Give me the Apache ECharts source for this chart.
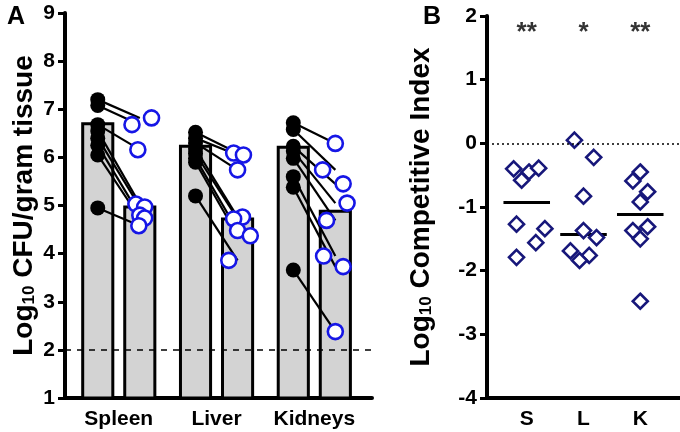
<!DOCTYPE html>
<html>
<head>
<meta charset="utf-8">
<script src="https://cdn.jsdelivr.net/npm/echarts@6.0.0/dist/echarts.min.js"></script>
<style>
html, body { margin: 0; padding: 0; background: #fff; }
#chart { width: 680px; height: 432px; }
</style>
</head>
<body>
<div id="chart"></div>
<script>
// panel A: paired CFU per organ (black = first strain, blue = second strain)
var organs = ['Spleen', 'Liver', 'Kidneys'];
var barBlack = [6.70, 6.23, 6.21];
var barBlue = [4.97, 4.72, 4.88];
var blackVals = [
	[7.20, 7.08, 6.68, 6.55, 6.40, 6.25, 6.05, 4.95],
	[6.52, 6.40, 6.30, 6.18, 6.08, 5.98, 5.90, 5.20],
	[6.72, 6.58, 6.23, 6.13, 5.98, 5.60, 5.38, 3.66]
];
var blueVals = [
	[6.82, 6.68, 6.16, 5.03, 4.97, 4.80, 4.74, 4.58],
	[6.09, 6.05, 5.74, 4.76, 4.72, 4.48, 4.37, 3.86],
	[6.29, 5.74, 5.45, 5.05, 4.69, 3.95, 3.73, 2.38]
];
var blueJitter = [
	[0.12, -0.08, -0.02, -0.04, 0.05, 0, 0.05, -0.01],
	[-0.04, 0.06, 0, 0.05, -0.04, 0, 0.13, -0.09],
	[0, -0.13, 0.08, 0.12, -0.09, -0.12, 0.08, 0]
];
var detectionLimit = 2;

// panel B: competitive index
var sites = ['S', 'L', 'K'];
var ciVals = [
	[-0.40, -0.45, -0.39, -0.58, -1.27, -1.34, -1.56, -1.79],
	[0.05, -0.22, -0.83, -1.37, -1.48, -1.69, -1.76, -1.84],
	[-0.45, -0.59, -0.76, -0.92, -1.37, -1.31, -1.50, -2.48]
];
var ciJitter = [
	[-0.23, 0.04, 0.21, -0.09, -0.18, 0.32, 0.16, -0.18],
	[-0.16, 0.18, 0, 0, 0.23, -0.23, 0.10, -0.07],
	[0, -0.13, 0.13, 0, -0.13, 0.13, 0, 0]
];
var ciMedians = [-0.92, -1.43, -1.11];
var stars = ['**', '*', '**'];

var font = 'Liberation Sans, Arial, sans-serif';
var pairOff = 0.215;
var barHalf = 0.154;
var sitePos = [0.7, 1.7, 2.7];
var medHalf = 0.41;

var barData = [], blackPts = [], bluePts = [], pairLines = [];
for (var g = 0; g < organs.length; g++) {
	barData.push([g - pairOff, barBlack[g]]);
	barData.push([g + pairOff, barBlue[g]]);
	for (var i = 0; i < blackVals[g].length; i++) {
		blackPts.push([g - pairOff, blackVals[g][i]]);
		bluePts.push([g + pairOff + blueJitter[g][i], blueVals[g][i]]);
		pairLines.push({coords: [[g - pairOff, blackVals[g][i]], [g + pairOff, blueVals[g][i]]]});
	}
}

var ciPts = [], medLines = [], starPts = [];
for (var s = 0; s < sites.length; s++) {
	for (var j = 0; j < ciVals[s].length; j++) {
		ciPts.push([sitePos[s] + ciJitter[s][j], ciVals[s][j]]);
	}
	medLines.push({coords: [[sitePos[s] - medHalf, ciMedians[s]], [sitePos[s] + medHalf, ciMedians[s]]]});
	starPts.push([sitePos[s], 1.74]);
}

var axisText = {color: '#000', fontWeight: 'bold', fontFamily: font};
var nameStyle = {
	color: '#000', fontSize: 28, fontWeight: 'bold', fontFamily: font,
	rich: {sub: {fontSize: 17, fontWeight: 'bold', fontFamily: font, color: '#000', verticalAlign: 'bottom', padding: [9, 0, 0, 0]}}
};

var myChart = echarts.init(document.getElementById('chart'));
var option = {
	animation: false,
	title: [
		{text: 'A', left: 2, top: 0, textStyle: {color: '#000', fontSize: 25, fontWeight: 'bold', fontFamily: font}},
		{text: 'B', left: 418, top: 0, textStyle: {color: '#000', fontSize: 25, fontWeight: 'bold', fontFamily: font}}
	],
	grid: [
		{left: 65, right: 308, top: 13, bottom: 34},
		{left: 487, right: 0, top: 16, bottom: 34}
	],
	xAxis: [
		{
			gridIndex: 0,
			type: 'value',
			min: -0.55,
			max: 2.59,
			splitLine: {show: false},
			axisTick: {show: false},
			axisLine: {show: true, onZero: false, lineStyle: {color: '#000', width: 4}},
			axisLabel: Object.assign({
				customValues: [0, 1, 2],
				fontSize: 21,
				margin: 11,
				formatter: function (v) { return organs[Math.round(v)]; }
			}, axisText)
		},
		{
			gridIndex: 1,
			type: 'value',
			min: 0,
			max: 3.4,
			splitLine: {show: false},
			axisTick: {show: false},
			axisLine: {show: true, onZero: false, lineStyle: {color: '#000', width: 4}},
			axisLabel: Object.assign({
				customValues: sitePos,
				fontSize: 21,
				margin: 11,
				formatter: function (v) { return sites[Math.round(v - 0.7)]; }
			}, axisText)
		}
	],
	yAxis: [
		{
			gridIndex: 0,
			type: 'value',
			min: 1,
			max: 9,
			interval: 1,
			splitLine: {show: false},
			axisLine: {show: true, onZero: false, lineStyle: {color: '#000', width: 4}},
			axisTick: {show: true, length: 7, lineStyle: {color: '#000', width: 3}},
			axisLabel: Object.assign({fontSize: 21, margin: 10}, axisText),
			name: 'Log{sub|10} CFU/gram tissue',
			nameLocation: 'middle',
			nameRotate: 90,
			nameGap: 27,
			nameTextStyle: nameStyle
		},
		{
			gridIndex: 1,
			type: 'value',
			min: -4,
			max: 2,
			interval: 1,
			splitLine: {show: false},
			axisLine: {show: true, onZero: false, lineStyle: {color: '#000', width: 4}},
			axisTick: {show: true, length: 7, lineStyle: {color: '#000', width: 3}},
			axisLabel: Object.assign({fontSize: 21, margin: 10}, axisText),
			name: 'Log{sub|10} Competitive Index',
			nameLocation: 'middle',
			nameRotate: 90,
			nameGap: 52,
			nameTextStyle: nameStyle
		}
	],
	series: [
		{
			// detection limit
			type: 'line',
			xAxisIndex: 0,
			yAxisIndex: 0,
			data: [],
			z: 1,
			markLine: {
				silent: true,
				symbol: ['none', 'none'],
				label: {show: false},
				lineStyle: {color: '#000', width: 1.5, type: [6, 6]},
				data: [{yAxis: detectionLimit}]
			}
		},
		{
			type: 'custom',
			xAxisIndex: 0,
			yAxisIndex: 0,
			z: 2,
			data: barData,
			renderItem: function (params, api) {
				var x = api.value(0), y = api.value(1);
				var p1 = api.coord([x - barHalf, y]);
				var p2 = api.coord([x + barHalf, 1]);
				return {
					type: 'rect',
					shape: {x: p1[0], y: p1[1], width: p2[0] - p1[0], height: p2[1] - p1[1]},
					style: {fill: '#d3d3d3', stroke: '#000', lineWidth: 3}
				};
			}
		},
		{
			type: 'lines',
			coordinateSystem: 'cartesian2d',
			xAxisIndex: 0,
			yAxisIndex: 0,
			z: 3,
			silent: true,
			lineStyle: {color: '#000', width: 2.2, opacity: 1},
			data: pairLines
		},
		{
			type: 'scatter',
			xAxisIndex: 0,
			yAxisIndex: 0,
			z: 4,
			symbol: 'circle',
			symbolSize: 15,
			itemStyle: {color: '#000', opacity: 1},
			data: blackPts
		},
		{
			type: 'scatter',
			xAxisIndex: 0,
			yAxisIndex: 0,
			z: 5,
			symbol: 'circle',
			symbolSize: 15,
			itemStyle: {color: '#fff', borderColor: '#1616e6', borderWidth: 2.6, opacity: 1},
			data: bluePts
		},
		{
			// zero line
			type: 'line',
			xAxisIndex: 1,
			yAxisIndex: 1,
			data: [],
			z: 1,
			markLine: {
				silent: true,
				symbol: ['none', 'none'],
				label: {show: false},
				lineStyle: {color: '#000', width: 1.6, type: [2, 3]},
				data: [{yAxis: 0}]
			}
		},
		{
			type: 'lines',
			coordinateSystem: 'cartesian2d',
			xAxisIndex: 1,
			yAxisIndex: 1,
			z: 3,
			silent: true,
			lineStyle: {color: '#000', width: 3, opacity: 1},
			data: medLines
		},
		{
			type: 'scatter',
			xAxisIndex: 1,
			yAxisIndex: 1,
			z: 4,
			symbol: 'diamond',
			symbolSize: 15,
			itemStyle: {color: '#fff', borderColor: '#17177a', borderWidth: 2.6, opacity: 1},
			data: ciPts
		},
		{
			type: 'scatter',
			xAxisIndex: 1,
			yAxisIndex: 1,
			z: 6,
			symbolSize: 1,
			itemStyle: {color: 'rgba(0,0,0,0)'},
			label: {
				show: true,
				position: 'inside',
				color: '#000',
				fontSize: 26,
				fontWeight: 'bold',
				fontFamily: font,
				formatter: function (p) { return stars[p.dataIndex]; }
			},
			data: starPts
		}
	]
};
myChart.setOption(option);
window.onresize = function () {
	myChart.resize();
};
</script>
</body>
</html>
